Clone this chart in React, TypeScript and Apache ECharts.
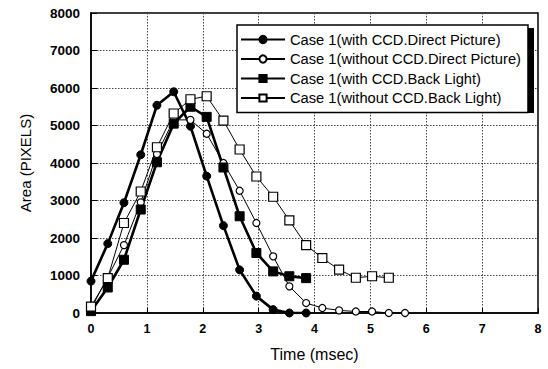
import React, { useEffect, useRef } from "react";
import * as echarts from "echarts";

const times = [0, 0.3, 0.59, 0.89, 1.18, 1.48, 1.78, 2.07, 2.37, 2.66, 2.96, 3.26, 3.55, 3.85, 4.14, 4.44, 4.74, 5.03, 5.33, 5.62];

const withCcdDirect = [850, 1850, 2940, 4220, 5540, 5900, 4980, 3650, 2330, 1150, 450, 90, 0, 0];
const withoutCcdDirect = [120, 950, 1810, 2950, 4240, 5150, 5150, 4780, 4000, 3260, 2400, 1510, 710, 266, 133, 70, 40, 40, 0, 0];
const withCcdBack = [50, 680, 1420, 2760, 4020, 5050, 5500, 5230, 3880, 2580, 1600, 1110, 980, 930];
const withoutCcdBack = [170, 930, 2400, 3240, 4420, 5320, 5700, 5780, 5130, 4360, 3640, 3100, 2470, 1810, 1466, 1155, 940, 980, 940];

const seriesNames = [
  "Case 1(with CCD.Direct Picture)",
  "Case 1(without CCD.Direct Picture)",
  "Case 1(with CCD.Back Light)",
  "Case 1(without CCD.Back Light)",
];

const xTicks = [0, 1, 2, 3, 4, 5, 6, 7, 8];
const yTicks = [0, 1000, 2000, 3000, 4000, 5000, 6000, 7000, 8000];

const FONT = "'Liberation Sans', Arial, Helvetica, sans-serif";

function pairs(vals: number[]) {
  return vals.map((v, i) => [times[i], v]);
}

export default function App() {
  const ref = useRef<HTMLDivElement>(null);
  useEffect(() => {
    if (!ref.current) return;
    const chart = echarts.init(ref.current, null, { renderer: "svg" });
    const mk = (
      name: string,
      vals: number[],
      symbol: string,
      filled: boolean,
      thick: boolean,
      size: number
    ) => ({
      name,
      type: "line",
      data: pairs(vals),
      symbol,
      symbolSize: size,
      showAllSymbol: true,
      lineStyle: { color: "#000", width: thick ? 2.6 : 1 },
      itemStyle: {
        color: filled ? "#000" : "#fff",
        borderColor: "#000",
        borderWidth: filled ? 1 : 1.2,
      },
      emphasis: { disabled: true },
      z: 3,
    });
    chart.setOption({
      animation: false,
      textStyle: { fontFamily: FONT },
      grid: { left: 91, right: 10, top: 13, bottom: 56, show: true, borderColor: "#000", borderWidth: 1.5, backgroundColor: "#fff" },
      graphic: [
        {
          type: "rect",
          shape: { x: 240, y: 28, width: 294, height: 85 },
          style: { fill: "#000" },
          z: 9,
        },
      ],
      xAxis: {
        type: "value",
        min: xTicks[0],
        max: xTicks[xTicks.length - 1],
        interval: 1,
        name: "Time (msec)",
        nameLocation: "middle",
        nameGap: 33,
        nameTextStyle: { fontSize: 16, color: "#000", fontFamily: FONT },
        axisLine: { lineStyle: { color: "#000", width: 1.5 } },
        axisTick: { show: true, inside: true, length: 5, lineStyle: { color: "#000" } },
        axisLabel: { color: "#000", fontSize: 12.5, fontWeight: "bold", margin: 9, fontFamily: FONT, formatter: (v: number) => String(v) },
        splitLine: { show: true, lineStyle: { color: "#444", type: [1.5, 1.5], width: 1 } },
      },
      yAxis: {
        type: "value",
        min: yTicks[0],
        max: yTicks[yTicks.length - 1],
        interval: 1000,
        name: "Area (PIXELS)",
        nameLocation: "middle",
        nameRotate: 90,
        nameGap: 58,
        nameTextStyle: { fontSize: 15, color: "#000", fontFamily: FONT },
        axisLine: { show: true, lineStyle: { color: "#000", width: 1.5 } },
        axisTick: { show: true, inside: true, length: 6, lineStyle: { color: "#000" } },
        axisLabel: { color: "#000", fontSize: 13.5, fontWeight: "bold", margin: 11, fontFamily: FONT, formatter: (v: number) => String(v) },
        splitLine: { show: true, lineStyle: { color: "#444", type: [1.5, 1.5], width: 1 } },
      },
      legend: {
        orient: "vertical",
        left: 237,
        top: 25,
        padding: [7, 7, 7, 3],
        itemWidth: 44,
        itemHeight: 9,
        itemGap: 4.5,
        backgroundColor: "#fff",
        borderColor: "#000",
        borderWidth: 1.5,
        textStyle: { fontSize: 14.7, color: "#000", fontFamily: FONT, lineHeight: 14 },
        data: seriesNames,
        z: 10,
      },
      series: [
        mk(seriesNames[0], withCcdDirect, "circle", true, true, 8),
        mk(seriesNames[1], withoutCcdDirect, "circle", false, false, 7),
        mk(seriesNames[2], withCcdBack, "rect", true, true, 9),
        mk(seriesNames[3], withoutCcdBack, "rect", false, false, 9),
      ],
    });
    return () => chart.dispose();
  }, []);
  return <div ref={ref} style={{ position: "fixed", left: 0, top: 0, width: 548, height: 369, background: "#fff" }} />;
}
